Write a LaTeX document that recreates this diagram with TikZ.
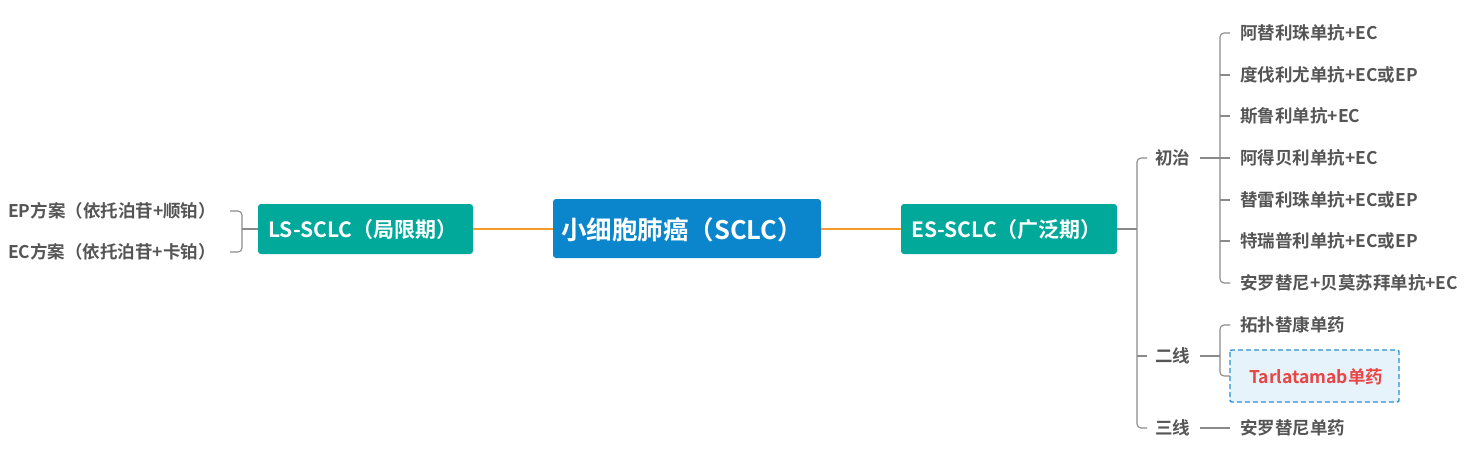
\documentclass[tikz,border=0pt]{standalone}
\usepackage{fontspec}
\setmainfont{Noto Sans CJK SC}[BoldFont={* Bold}]
\definecolor{teal1}{HTML}{00A99A}
\definecolor{blue1}{HTML}{0B86CC}
\definecolor{orng}{HTML}{F39C2B}
\definecolor{gry}{HTML}{555555}
\definecolor{ln}{HTML}{8A8A8A}
\definecolor{dbl}{HTML}{2A8FD6}
\definecolor{lbl}{HTML}{E6F3FB}
\definecolor{red1}{HTML}{E84545}
\begin{document}
\begin{tikzpicture}[x=1pt,y=-1pt,
  leaf/.style={anchor=west,inner sep=0pt,font=\fontsize{17.5}{17.5}\selectfont\bfseries,text=gry},
  mid/.style={anchor=west,inner sep=0pt,font=\fontsize{17.5}{17.5}\selectfont\bfseries,text=gry},
  gl/.style={draw=ln,line width=1.1pt,rounded corners=4pt},
  ol/.style={draw=orng,line width=1.6pt}]
\useasboundingbox (0,0) rectangle (1475,464);
\fill[blue1,rounded corners=3pt] (553,199) rectangle (821,258);
\node[text=white,font=\fontsize{25.5}{25.5}\selectfont\bfseries,inner sep=0pt] (root) at (682,230) {小细胞肺癌（SCLC）};
\fill[teal1,rounded corners=3pt] (258,204) rectangle (473,254);
\node[text=white,font=\fontsize{21}{21}\selectfont\bfseries,inner sep=0pt,anchor=west] (ls) at (268,230) {LS-SCLC（局限期）};
\fill[teal1,rounded corners=3pt] (901,204) rectangle (1117,254);
\node[text=white,font=\fontsize{21}{21}\selectfont\bfseries,inner sep=0pt,anchor=west] (es) at (911,230) {ES-SCLC（广泛期）};
\coordinate (rl) at (553,229); \coordinate (rr) at (821,229);
\coordinate (lsr) at (473,229); \coordinate (esl) at (901,229);
\draw[ol] (rl) -- (lsr); \draw[ol] (rr) -- (esl);
% left
\node[leaf,anchor=west] (ep) at (8,211) {EP方案（依托泊苷+顺铂）};
\node[leaf,anchor=west] (ec) at (8,252) {EC方案（依托泊苷+卡铂）};
\draw[gl] (258,229) -- (242,229);
\draw[gl] (230,211) -- (242,211) -- (242,252) -- (230,252);
% right
\draw[gl] (1117,229) -- (1137,229);
\draw[gl] (1147,158) -- (1137,158) -- (1137,428) -- (1147,428);
\draw[gl] (1137,356) -- (1147,356);
\node[mid] (c1) at (1155,158) {初治};
\node[mid] (c2) at (1155,356) {二线};
\node[mid] (c3) at (1155,428) {三线};
\draw[gl] (1200,158) -- (1230,158);
\draw[gl] (1230,33) -- (1220,33) -- (1220,283) -- (1230,283);
\foreach \y in {75,116,200,241} \draw[gl] (1220,\y) -- (1230,\y);
\node[leaf] (a1) at (1240,33) {阿替利珠单抗+EC};
\node[leaf] (a2) at (1240,75) {度伐利尤单抗+EC或EP};
\node[leaf] (a3) at (1240,116) {斯鲁利单抗+EC};
\node[leaf] (a4) at (1240,158) {阿得贝利单抗+EC};
\node[leaf] (a5) at (1240,200) {替雷利珠单抗+EC或EP};
\node[leaf] (a6) at (1240,241) {特瑞普利单抗+EC或EP};
\node[leaf] (a7) at (1240,283) {安罗替尼+贝莫苏拜单抗+EC};
\draw[gl] (1200,356) -- (1220,356);
\draw[gl] (1230,325) -- (1220,325) -- (1220,376) -- (1240,376);
\node[leaf] (b1) at (1240,325) {拓扑替康单药};
\draw[dbl,fill=lbl,dash pattern=on 5pt off 3pt,line width=1.4pt,rounded corners=2pt] (1230,350) rectangle (1399,402);
\node[leaf,text=red1] (b2) at (1249,377) {Tarlatamab单药};
\draw[gl] (1200,428) -- (1230,428);
\node[leaf] (d1) at (1240,428) {安罗替尼单药};
\end{tikzpicture}
\end{document}
